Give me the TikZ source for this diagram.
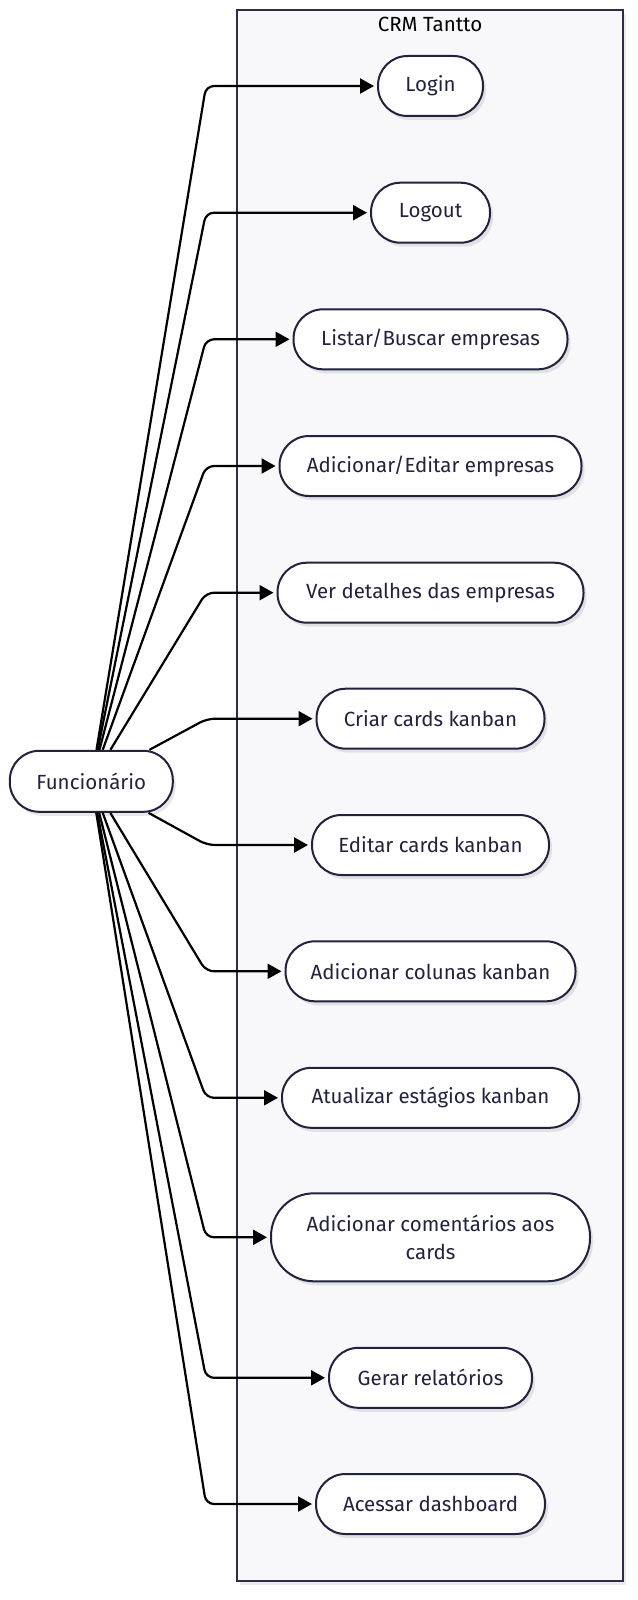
\documentclass[tikz,border=0pt]{standalone}
\usepackage{fontspec}
\setmainfont{Fira Sans}
\usetikzlibrary{arrows.meta,shadows}
\definecolor{ink}{HTML}{22223E}
\definecolor{frameline}{HTML}{2E2E48}
\definecolor{framefill}{HTML}{F8F8FB}
\tikzset{
  usecase/.style={draw=ink, line width=2pt, fill=white, text=ink,
    rectangle, rounded corners=29.5pt, minimum height=60pt, inner sep=0pt,
    font=\fontsize{20.5}{28}\selectfont,
    drop shadow={shadow xshift=3pt, shadow yshift=-4pt, fill=black, opacity=0.09}},
  edge/.style={draw=black, line width=2.2pt, rounded corners=8pt,
    -{Triangle[length=14pt,width=15pt]}, shorten >=3pt},
}
\begin{document}
\begin{tikzpicture}[x=1pt,y=-1pt]
\useasboundingbox (0,0) rectangle (637,1600);
% system boundary
\draw[draw=frameline, line width=2pt, fill=framefill,
  drop shadow={shadow xshift=3pt, shadow yshift=-4pt, fill=black, opacity=0.08}]
  (237,10) rectangle (623,1581);
\node[text=black, font=\fontsize{20.5}{22}\selectfont] (title) at (430,24) {CRM Tantto};
% actor
\node[usecase, minimum width=163pt, minimum height=61pt] (f) at (91.3,781.3) {Funcionário};
% use cases
\node[usecase, minimum width=105pt] (n1) at (430.5,86) {Login};
\node[usecase, minimum width=119pt] (n2) at (430.5,212.7) {Logout};
\node[usecase, minimum width=274pt] (n3) at (430.5,339.3) {Listar/Buscar empresas};
\node[usecase, minimum width=302pt] (n4) at (430.5,466) {Adicionar/Editar empresas};
\node[usecase, minimum width=306pt] (n5) at (430.5,592.7) {Ver detalhes das empresas};
\node[usecase, minimum width=228pt] (n6) at (430.5,718.7) {Criar cards kanban};
\node[usecase, minimum width=237pt] (n7) at (430.5,845) {Editar cards kanban};
\node[usecase, minimum width=290pt] (n8) at (430.5,971.3) {Adicionar colunas kanban};
\node[usecase, minimum width=297pt] (n9) at (430.5,1097.8) {Atualizar estágios kanban};
\node[usecase, minimum width=319pt, minimum height=88pt, rounded corners=43pt, align=center] (n10) at (430.5,1237.3) {Adicionar comentários aos\\cards};
\node[usecase, minimum width=203pt] (n11) at (430.5,1377.8) {Gerar relatórios};
\node[usecase, minimum width=229pt] (n12) at (430.5,1504) {Acessar dashboard};
% bend points
\coordinate (c1) at (206,86);
\coordinate (c2) at (206,212.7);
\coordinate (c3) at (206,339.3);
\coordinate (c4) at (206,466);
\coordinate (c5) at (206,592.7);
\coordinate (c6) at (207,718.7);
\coordinate (c7) at (207,845);
\coordinate (c8) at (206,971.3);
\coordinate (c9) at (206,1097.8);
\coordinate (c10) at (206,1237.3);
\coordinate (c11) at (206,1377.8);
\coordinate (c12) at (206,1504);
% connectors
\foreach \i in {1,...,12} {
  \draw[edge] (f) -- (c\i) -- (n\i);
}
\end{tikzpicture}
\end{document}
